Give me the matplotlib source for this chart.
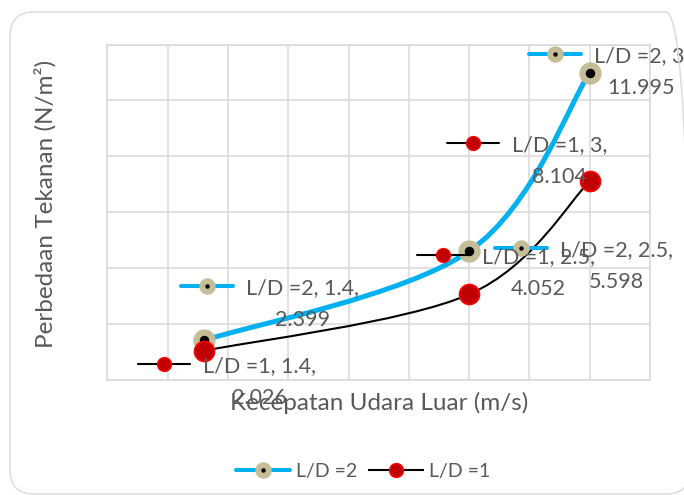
import numpy as np
import matplotlib.pyplot as plt
from matplotlib.path import Path
from matplotlib.patches import PathPatch, FancyBboxPatch
from matplotlib.lines import Line2D
from matplotlib.markers import MarkerStyle
from matplotlib import transforms

plt.rcParams['font.family'] = ['Lato', 'DejaVu Sans']

# Data
kecepatan = [1.4, 2.5, 3]              # kecepatan udara luar (m/s)
dp_ld2 = [2.399, 5.598, 11.995]        # L/D = 2
dp_ld1 = [2.026, 4.052, 8.104]         # L/D = 1
nama_ld2 = 'L/D =2'
nama_ld1 = 'L/D =1'

biru = '#00B0F0'
tan = '#C4BD97'
merah = '#C00000'
abu = '#D9D9D9'
teks = '#595959'


def kurva_halus(x, y):
    # garis halus ala Excel: Bezier Catmull-Rom lewat tiap titik
    p = np.column_stack([x, y]).astype(float)
    ext = np.vstack([p[0], p, p[-1]])
    verts = [p[0]]
    codes = [Path.MOVETO]
    for i in range(len(p) - 1):
        a, b, c, d = ext[i], ext[i + 1], ext[i + 2], ext[i + 3]
        verts += [b + (c - a) / 6, c - (d - b) / 6, c]
        codes += [Path.CURVE4] * 3
    return Path(verts, codes)


fig = plt.figure(figsize=(6.84, 4.95), dpi=100)
ax = fig.add_axes([107.3 / 684, 1 - 379.5 / 495, 542.7 / 684, 334.8 / 495])
ax.set_xlim(1, 3.25)
ax.set_ylim(1, 13)
ax.set_xticks(np.arange(1, 3.26, 0.25))
ax.set_yticks(np.arange(1, 14, 2))
ax.tick_params(length=0, labelbottom=False, labelleft=False)
ax.grid(color=abu, lw=1.1)
ax.set_axisbelow(True)
for s in ax.spines.values():
    s.set_color(abu)
    s.set_linewidth(1.1)

# garis dan titik L/D = 2
ax.add_patch(PathPatch(kurva_halus(kecepatan, dp_ld2), fill=False, ec=biru,
                       lw=3.6, capstyle='round', zorder=3))
ax.plot(kecepatan, dp_ld2, 'o', ms=15, mfc=tan, mec=tan, zorder=4)
ax.plot(kecepatan, dp_ld2, 'o', ms=5.8, color='black', zorder=4)

# garis dan titik L/D = 1
ax.add_patch(PathPatch(kurva_halus(kecepatan, dp_ld1), fill=False, ec='black',
                       lw=1.5, zorder=5))
ax.plot(kecepatan, dp_ld1, 'o', ms=14.4, mfc=merah, mec='#FF0000', mew=1.2, zorder=6)

# label data dengan kunci legenda (geser dalam piksel)
geser_ld2 = [(3, 54.5), (52, 3), (-35, 19)]
geser_ld1 = [(-40, -13), (-26, 39.5), (-117, 38.7)]
garis_kunci = MarkerStyle('_', capstyle='round')


def label(x, y, dx, dy, nama, warna, lw, ld2):
    tr = transforms.offset_copy(ax.transData, fig=fig, x=dx, y=dy, units='dots')
    ax.plot([x], [y], marker=garis_kunci, ms=38, mew=lw, color=warna,
             transform=tr, clip_on=False, zorder=7)
    if ld2:
        ax.plot([x], [y], 'o', ms=10.8, mfc=tan, mec=tan, transform=tr,
                clip_on=False, zorder=7)
        ax.plot([x], [y], 'o', ms=2.2, color='black', transform=tr,
                clip_on=False, zorder=7)
    else:
        ax.plot([x], [y], 'o', ms=10, mfc=merah, mec='#FF0000', mew=1,
                transform=tr, clip_on=False, zorder=7)
    tr_t = transforms.offset_copy(ax.transData, fig=fig, x=dx + 39, y=dy - 18,
                                  units='dots')
    ax.text(x, y, f'{nama}, {x:g},\n{y:.3f}', transform=tr_t, ha='left',
            va='center', multialignment='center', fontsize=15.5, color=teks,
            linespacing=1.75, clip_on=False, zorder=8)


for x, y, (dx, dy) in zip(kecepatan, dp_ld2, geser_ld2):
    label(x, y, dx, dy, nama_ld2, biru, 2.9, True)
for x, y, (dx, dy) in zip(kecepatan, dp_ld1, geser_ld1):
    label(x, y, dx, dy, nama_ld1, 'black', 1.5, False)

# judul sumbu
fig.text(379 / 684, 1 - 403 / 495, 'Kecepatan Udara Luar (m/s)', ha='center',
         va='center', fontsize=17.5, color=teks)
fig.text(45 / 684, 1 - 204 / 495, 'Perbedaan Tekanan (N/m²)', rotation=90,
         ha='center', va='center', fontsize=17.5, color=teks)

# legenda
h_ld2 = (Line2D([], [], color=biru, lw=2.9, marker='o', ms=10.8, mfc=tan, mec=tan,
                solid_capstyle='round'),
         Line2D([], [], ls='none', marker='o', ms=2.2, color='black'))
h_ld1 = Line2D([], [], color='black', lw=1.5, marker='o', ms=10, mfc=merah,
               mec='#FF0000', mew=1)
fig.legend([h_ld2, h_ld1], [nama_ld2, nama_ld1], loc='center',
           bbox_to_anchor=(363 / 684, 1 - 471.7 / 495), ncol=2, frameon=False,
           handlelength=2.8, handletextpad=0.3, columnspacing=0.6,
           fontsize=14, labelcolor=teks)

# bingkai grafik
fig.add_artist(FancyBboxPatch((10, 1), 680, 482, boxstyle='round,pad=0,rounding_size=24',
                              transform=None, fc='none', ec=abu, lw=1))

fig.savefig('out.png', dpi=100)
